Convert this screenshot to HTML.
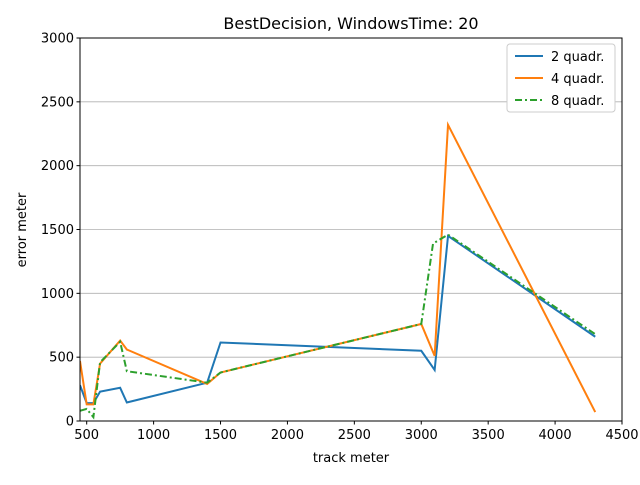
<!DOCTYPE html>
<html><head><meta charset="utf-8"><style>
body{margin:0;background:#fff;font-family:"Liberation Sans","DejaVu Sans",sans-serif}
text{font-family:"DejaVu Sans","Liberation Sans",sans-serif}
</style></head><body>
<svg id="chart" width="640" height="480" viewBox="0 0 640 480" xmlns="http://www.w3.org/2000/svg">
<rect width="640" height="480" fill="#fff"/>
<g id="grid"></g>
<g id="lines"></g>
<g id="axes"></g>
<text x="351" y="29" font-size="16" text-anchor="middle">BestDecision, WindowsTime: 20</text>
<text x="351" y="462" font-size="13" text-anchor="middle">track meter</text>
<text x="26" y="230" font-size="13" text-anchor="middle" transform="rotate(-90 26 230)">error meter</text>
<g>
<rect x="507" y="44" width="108" height="68" fill="#fff" stroke="#ccc" rx="3"/>
<line x1="515" y1="56" x2="543" y2="56" stroke="#1f77b4" stroke-width="2"/>
<text x="551" y="61" font-size="13">2 quadr.</text>
<line x1="515" y1="78" x2="543" y2="78" stroke="#ff7f0e" stroke-width="2"/>
<text x="551" y="83" font-size="13">4 quadr.</text>
<line x1="515" y1="100" x2="543" y2="100" stroke="#2ca02c" stroke-width="2" stroke-dasharray="7,3,2,3"/>
<text x="551" y="105" font-size="13">8 quadr.</text>
</g>
</svg>
<script>
const xTicks=[500,1000,1500,2000,2500,3000,3500,4000,4500];
const yTicks=[0,500,1000,1500,2000,2500,3000];
const xs=[450,500,550,600,750,800,1400,1500,3000,3100,3200,4300];
const xsGreen=[450,500,550,600,750,800,1400,1500,3000,3088,3200,4300];
const quad2=[280,140,140,230,260,145,300,615,550,400,1450,660];
const quad4=[470,130,130,450,630,560,290,380,760,510,2320,70];
const quad8=[80,95,30,460,620,390,300,380,760,1390,1460,680];
const L=80,R=622,T=38,B=421,X0=450,X1=4500,Y0=0,Y1=3000;
const sx=v=>L+(v-X0)/(X1-X0)*(R-L);
const sy=v=>B-(v-Y0)/(Y1-Y0)*(B-T);
const NS="http://www.w3.org/2000/svg";
const mk=(p,t,a)=>{const e=document.createElementNS(NS,t);for(const k in a)e.setAttribute(k,a[k]);p.appendChild(e);return e;};
const grid=document.getElementById('grid'),axes=document.getElementById('axes'),lines=document.getElementById('lines');
yTicks.forEach(v=>{
 const g=mk(grid,'line',{x1:L,x2:R,y1:sy(v),y2:sy(v),stroke:'#b0b0b0','stroke-width':0.8});
 
 
 mk(axes,'line',{x1:L-3.5,x2:L,y1:sy(v),y2:sy(v),stroke:'#000'});
 const t=mk(axes,'text',{x:L-6,y:sy(v)+4.5,'font-size':13,'text-anchor':'end'});t.textContent=v;
 
 
});
xTicks.forEach(v=>{
 mk(axes,'line',{x1:sx(v),x2:sx(v),y1:B,y2:B+3.5,stroke:'#000'});
 const t=mk(axes,'text',{x:sx(v),y:B+18,'font-size':13,'text-anchor':'middle'});t.textContent=v;
 
 
});
const f=mk(axes,'rect',{x:L,y:T,width:R-L,height:B-T,fill:'none',stroke:'#000','stroke-width':1});


const series=[[xs,quad2,'#1f77b4',null,'line-2-quadr'],[xs,quad4,'#ff7f0e',null,'line-4-quadr'],[xsGreen,quad8,'#2ca02c','7,3,2,3','line-8-quadr']];
series.forEach(([x,y,c,d,n])=>{
 const a={points:x.map((v,i)=>sx(v)+','+sy(y[i])).join(' '),fill:'none',stroke:c,'stroke-width':2,'clip-path':'url(#clip)'};
 if(d)a['stroke-dasharray']=d;
 const p=mk(lines,'polyline',a);
 
 
});
const defs=mk(document.getElementById('chart'),'defs',{});
const cp=mk(defs,'clipPath',{id:'clip'});mk(cp,'rect',{x:L,y:T,width:R-L,height:B-T});
</script>
</body></html>
